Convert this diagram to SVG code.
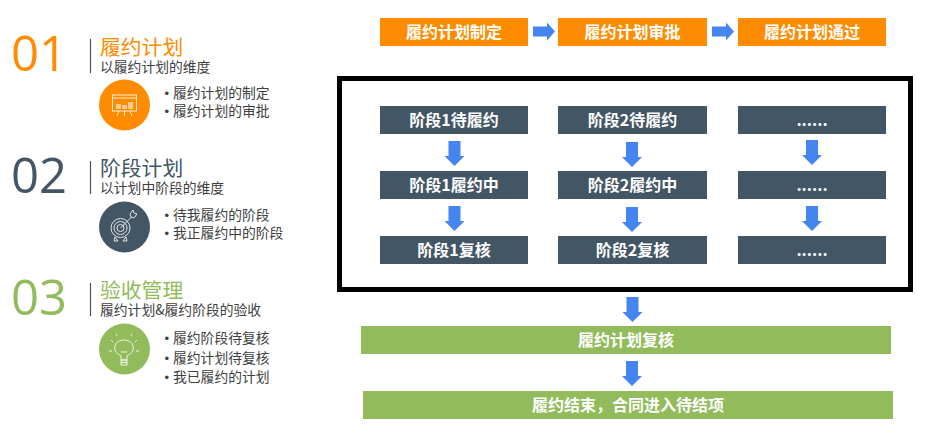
<svg xmlns="http://www.w3.org/2000/svg" width="940" height="435" viewBox="0 0 940 435">
<style>
text{font-family:"Noto Sans CJK SC","Liberation Sans",sans-serif}
.num{font-family:"Open Sans","Liberation Sans",sans-serif;font-size:49px}
.title{font-size:20.800px}
.sub{font-size:13.800px;fill:#404040}
.li{font-size:13.800px;fill:#404040}
.dot{font-family:"Liberation Sans",sans-serif;font-size:13px;fill:#404040}
.box{font-size:16px;font-weight:700;fill:#fff;text-anchor:middle}
.o{fill:#ff8c00}.d{fill:#435666}.g{fill:#92bb5c}
.sep{stroke:#435666;stroke-width:1.200}
.ic{fill:none;stroke:#fff;stroke-width:1;opacity:.85}
.bar{fill:#fff;opacity:.55}
.arr{fill:#4585f0}
</style>
<defs>
<polygon id="da" points="-6,0 6,0 6,15 10,15 0,25 -10,15 -6,15"/>
<polygon id="ra" points="0,-5 14,-5 14,-9 22,0 14,9 14,5 0,5"/>
</defs>
<rect width="940" height="435" fill="#fff"/>
<g id="section-01">
<text class="num o" x="11" y="71">01</text>
<line class="sep" x1="90.500" y1="39" x2="90.500" y2="73"/>
<text class="title o" x="100" y="55">履约计划</text>
<text class="sub" x="100" y="72">以履约计划的维度</text>
<circle class="o" cx="124.500" cy="105" r="25.500"/>
<g class="ic"><rect x="112.500" y="95" width="24" height="16"/><path d="M112.500 98h24M119 111l-2 5M130 111l2 5M124.500 111v5"/></g>
<path class="bar" d="M116 109v-5h5v5zM122 109v-4h5v4zM128 109v-7h5v7z"/>
<text class="dot" x="164.500" y="97.500">•</text><text class="li" x="173" y="98">履约计划的制定</text>
<text class="dot" x="164.500" y="115.500">•</text><text class="li" x="173" y="116">履约计划的审批</text>
</g>
<g id="section-02">
<text class="num d" x="11" y="193">02</text>
<line class="sep" x1="90.500" y1="161" x2="90.500" y2="194"/>
<text class="title d" x="100" y="176">阶段计划</text>
<text class="sub" x="100" y="193">以计划中阶段的维度</text>
<circle class="d" cx="124.500" cy="227" r="25.500"/>
<g class="ic"><circle cx="120.500" cy="228" r="9.500"/><circle cx="120.500" cy="228" r="6.500"/><circle cx="120.500" cy="228" r="3.500"/><path d="M120.500 228l11-11M130 214l1 3 3 1 3-4-3-1-1-3zM115 237l-1 4h4zM126 237l1 4h-4z"/></g>
<text class="dot" x="164.500" y="219.500">•</text><text class="li" x="173" y="220">待我履约的阶段</text>
<text class="dot" x="164.500" y="237.500">•</text><text class="li" x="173" y="238">我正履约中的阶段</text>
</g>
<g id="section-03">
<text class="num g" x="11" y="315">03</text>
<line class="sep" x1="90.500" y1="283" x2="90.500" y2="316"/>
<text class="title g" x="100" y="298">验收管理</text>
<text class="sub" x="100" y="315">履约计划&amp;履约阶段的验收</text>
<circle class="g" cx="124.500" cy="349" r="25.500"/>
<g class="ic"><path d="M121 360v-4c-5-3-7-6-6-10 1-4 5-6 9-6 4 0 8 2 9 6 1 4-1 7-6 10v4zM121 352h6M121 360h6v5h-6zM121 362.500h6M113 342l-2-2M135 342l2-2M109 351h3M136 351h3M117 336l-1-2M131 336l1-2"/></g>
<text class="dot" x="164.500" y="342.500">•</text><text class="li" x="173" y="343">履约阶段待复核</text>
<text class="dot" x="164.500" y="362.500">•</text><text class="li" x="173" y="363">履约计划待复核</text>
<text class="dot" x="164.500" y="381.500">•</text><text class="li" x="173" y="382">我已履约的计划</text>
</g>
<rect x="339.500" y="78.500" width="571" height="211" fill="#fff" stroke="#000" stroke-width="5"/>
<g id="plan-make"><rect class="o" x="380" y="18" width="148" height="28"/><text class="box" x="454" y="37.500">履约计划制定</text></g>
<g id="plan-review"><rect class="o" x="558" y="18" width="149" height="28"/><text class="box" x="632.500" y="37.500">履约计划审批</text></g>
<g id="plan-pass"><rect class="o" x="738" y="18" width="148" height="28"/><text class="box" x="812" y="37.500">履约计划通过</text></g>
<g id="s1-wait"><rect class="d" x="380" y="106" width="148" height="28"/><text class="box" x="454" y="125.500">阶段1待履约</text></g>
<g id="s2-wait"><rect class="d" x="558" y="106" width="149" height="28"/><text class="box" x="632.500" y="125.500">阶段2待履约</text></g>
<g id="s3-wait"><rect class="d" x="738" y="106" width="148" height="28"/><text class="box" x="812" y="125.500">......</text></g>
<g id="s1-doing"><rect class="d" x="380" y="171" width="148" height="28"/><text class="box" x="454" y="190.500">阶段1履约中</text></g>
<g id="s2-doing"><rect class="d" x="558" y="171" width="149" height="28"/><text class="box" x="632.500" y="190.500">阶段2履约中</text></g>
<g id="s3-doing"><rect class="d" x="738" y="171" width="148" height="28"/><text class="box" x="812" y="190.500">......</text></g>
<g id="s1-check"><rect class="d" x="380" y="236" width="148" height="28"/><text class="box" x="454" y="255.500">阶段1复核</text></g>
<g id="s2-check"><rect class="d" x="558" y="236" width="149" height="28"/><text class="box" x="632.500" y="255.500">阶段2复核</text></g>
<g id="s3-check"><rect class="d" x="738" y="236" width="148" height="28"/><text class="box" x="812" y="255.500">......</text></g>
<g id="plan-check"><rect class="g" x="361" y="326" width="530" height="28"/><text class="box" x="626" y="345.500">履约计划复核</text></g>
<g id="finish"><rect class="g" x="363" y="391" width="530" height="28"/><text class="box" x="628" y="410.500">履约结束，合同进入待结项</text></g>
<g id="connectors" class="arr">
<use href="#ra" x="533" y="31.500"/>
<use href="#ra" x="712" y="31.500"/>
<use href="#da" x="454.500" y="141"/>
<use href="#da" x="632" y="142"/>
<use href="#da" x="812" y="140"/>
<use href="#da" x="454.500" y="206"/>
<use href="#da" x="632" y="207"/>
<use href="#da" x="812" y="206"/>
<use href="#da" x="632.500" y="297"/>
<use href="#da" x="632" y="361"/>
</g>
</svg>
